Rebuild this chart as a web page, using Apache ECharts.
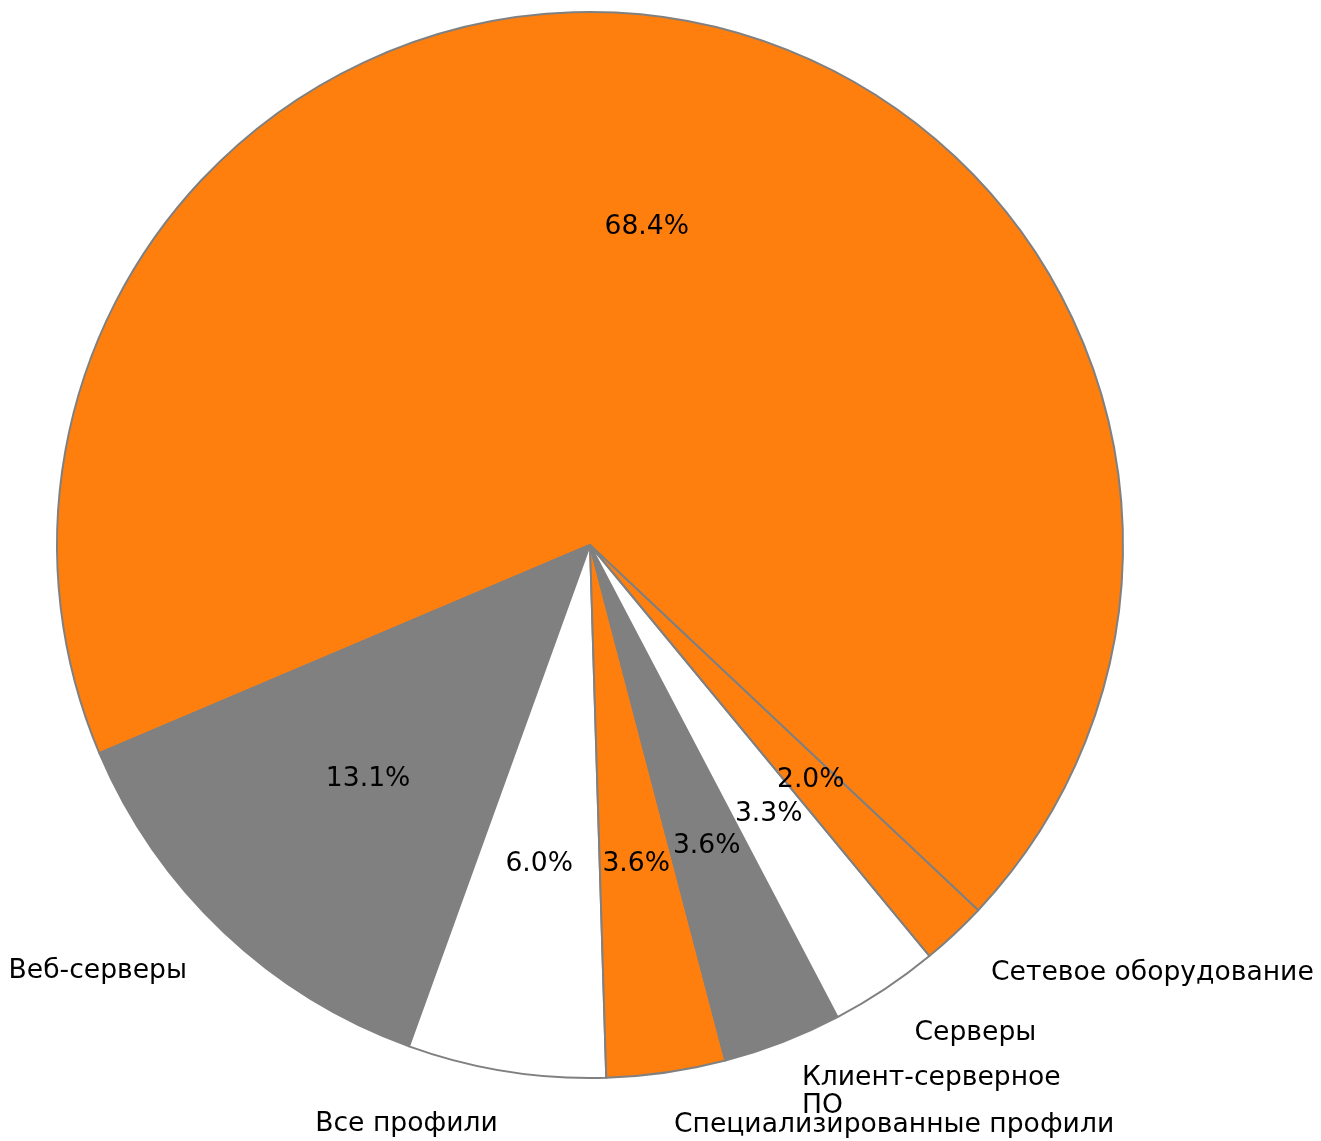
<!DOCTYPE html>
<html>
<head>
<meta charset="utf-8">
<script src="https://cdn.jsdelivr.net/npm/echarts@6/dist/echarts.min.js"></script>
<style>
  html, body { margin: 0; padding: 0; background: #ffffff; }
  #chart { width: 1321px; height: 1141px; }
</style>
</head>
<body>
<div id="chart"></div>
<script>
// Slice names (the largest slice carries no name label)
const categories = ['', 'Веб-серверы', 'Все профили', 'Специализированные профили', 'Клиент-серверное\nПО', 'Серверы', 'Сетевое оборудование'];
// Share of each slice, percent
const shares = [68.4, 13.1, 6.0, 3.6, 3.6, 3.3, 2.0];
// Fill colours cycle through three tones
const palette = ['#ff7f0e', '#808080', '#ffffff'];

const R = 533;
const center = [590, 545];
const startAngle = -43.25;

const chart = echarts.init(document.getElementById('chart'), null, { renderer: 'canvas' });

const sliceData = categories.map((name, i) => ({
  name: name,
  value: shares[i],
  itemStyle: { color: palette[i % palette.length] }
}));

const font = 'DejaVu Sans';
const fontSize = 26.6;

chart.setOption({
  animation: false,
  backgroundColor: '#ffffff',
  series: [
    {
      // the pie itself, with category names just outside the rim
      type: 'pie',
      center: center,
      radius: [0, R],
      startAngle: startAngle,
      clockwise: false,
      avoidLabelOverlap: false,
      silent: true,
      data: sliceData,
      itemStyle: { borderColor: '#808080', borderWidth: 2 },
      label: {
        show: true,
        position: 'outside',
        formatter: p => p.name,
        fontFamily: font,
        fontSize: fontSize,
        lineHeight: 28,
        color: '#000000',
        distanceToLabelLine: 0
      },
      labelLine: { show: false, length: R * 0.1, length2: 0 },
      labelLayout: { hideOverlap: false }
    },
    {
      // transparent ring used only to place the percentage labels at 0.6 R
      type: 'pie',
      center: center,
      radius: [0, R * 1.2],
      startAngle: startAngle,
      clockwise: false,
      silent: true,
      z: 3,
      data: categories.map((name, i) => ({ name: name, value: shares[i] })),
      itemStyle: { color: 'rgba(0,0,0,0)', borderWidth: 0 },
      label: {
        show: true,
        position: 'inside',
        formatter: p => p.value.toFixed(1) + '%',
        fontFamily: font,
        fontSize: fontSize,
        color: '#000000'
      },
      labelLine: { show: false },
      labelLayout: { hideOverlap: false }
    }
  ]
});
</script>
</body>
</html>
